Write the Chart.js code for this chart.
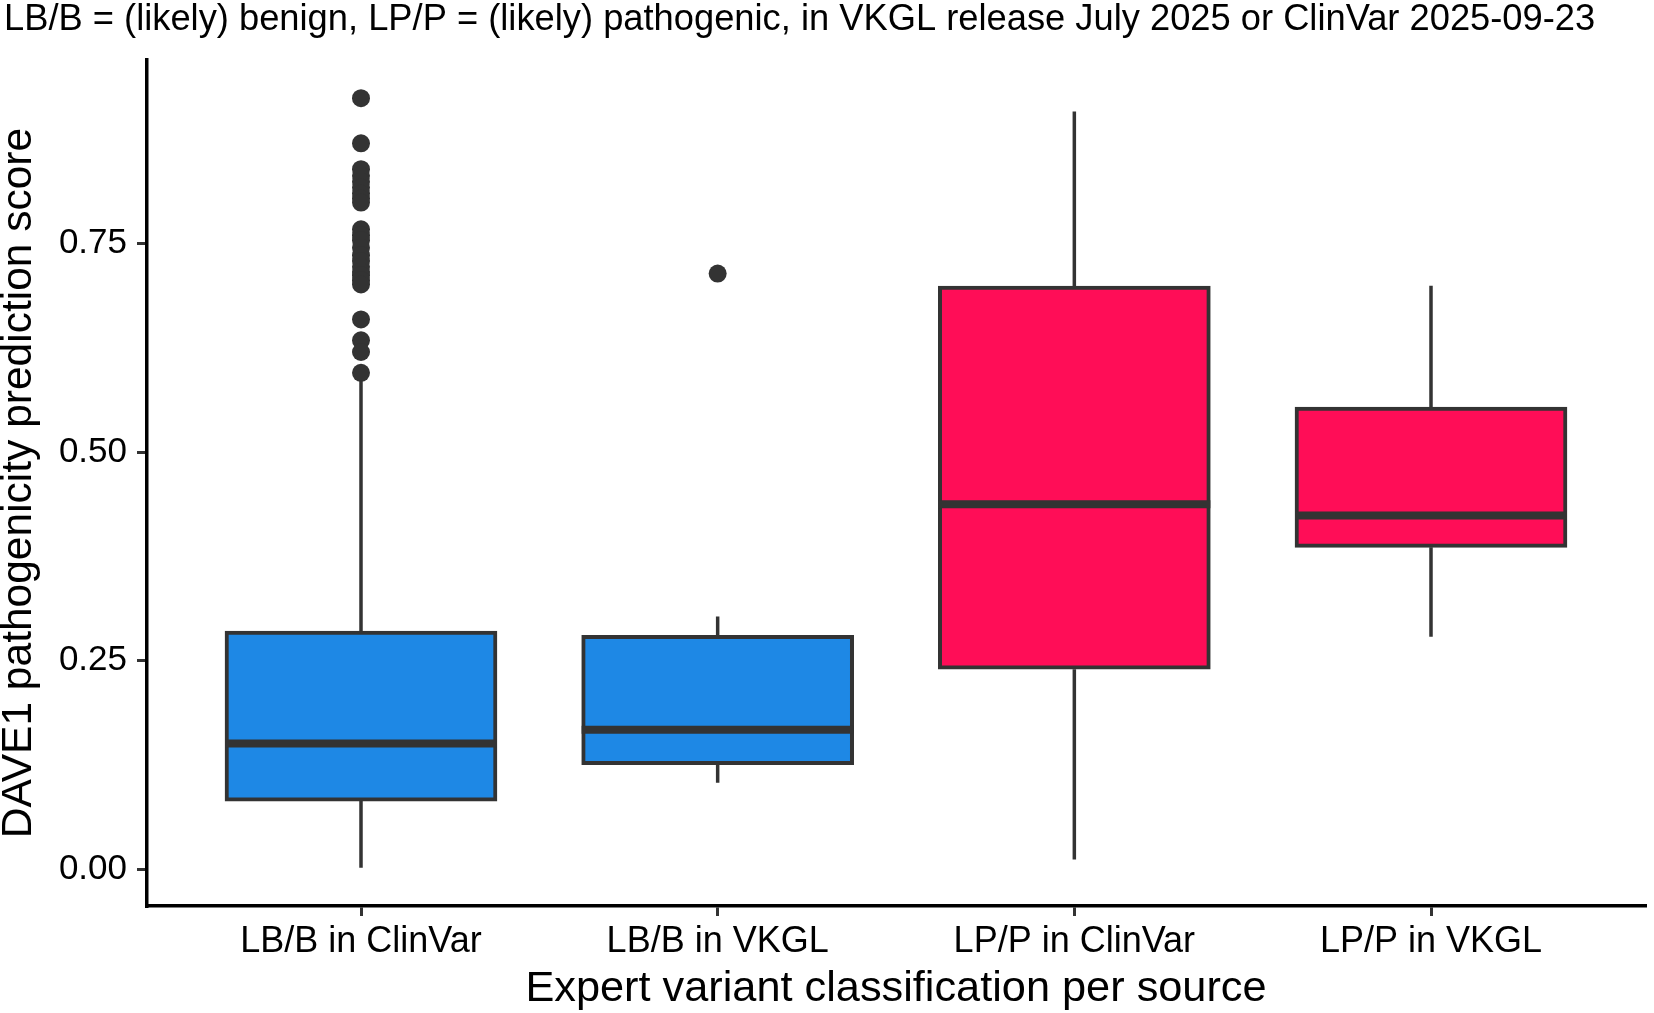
<!DOCTYPE html>
<html>
<head>
<meta charset="utf-8">
<script src="https://cdn.jsdelivr.net/npm/chart.js@4.4.1/dist/chart.umd.min.js"></script>
<style>
  html, body { margin: 0; padding: 0; background: #ffffff; }
  #wrap { width: 1654px; height: 1013px; }
</style>
</head>
<body>
<div id="wrap"><canvas id="c" width="1654" height="1013"></canvas></div>
<script>
// ---- data ----
const categories = ['LB/B in ClinVar', 'LB/B in VKGL', 'LP/P in ClinVar', 'LP/P in VKGL'];
const whiskerLow  = [0.002, 0.104, 0.012, 0.279];
const q1          = [0.082, 0.1255, 0.240, 0.386];
const median      = [0.151, 0.1675, 0.4375, 0.424];
const q3          = [0.2856, 0.2805, 0.699, 0.554];
const whiskerHigh = [0.591, 0.303, 0.908, 0.6995];
const outliersLBClinVar = [0.924, 0.870, 0.839, 0.831, 0.824, 0.817, 0.810, 0.804, 0.799,
                           0.767, 0.760, 0.754, 0.745, 0.736, 0.729, 0.722, 0.716, 0.712, 0.706, 0.701,
                           0.659, 0.634, 0.620, 0.595];
const outliersLBVKGL = [0.714];
const outliersLPClinVar = [];
const outliersLPVKGL = [];
const yTickValues = [0, 0.25, 0.5, 0.75];
const titleText = 'LB/B = (likely) benign, LP/P = (likely) pathogenic, in VKGL release July 2025 or ClinVar 2025-09-23';
const xTitle = 'Expert variant classification per source';
const yTitle = 'DAVE1 pathogenicity prediction score';

// ---- styling ----
const boxFill = ['#1E88E5', '#1E88E5', '#FF0D57', '#FF0D57'];
const ink = '#333333';

const xPositions = categories.map((_, i) => i + 1);
const outlierSets = [outliersLBClinVar, outliersLBVKGL, outliersLPClinVar, outliersLPVKGL];
const outlierPoints = [];
outlierSets.forEach((arr, i) => arr.forEach(v => outlierPoints.push({ x: xPositions[i], y: v })));

Chart.defaults.font.family = "'Liberation Sans', Arial, Helvetica, sans-serif";
Chart.defaults.color = '#000000';

const boxParts = {
  id: 'boxParts',
  beforeDatasetsDraw(chart) {
    const { ctx, scales: { x, y } } = chart;
    ctx.save();
    ctx.strokeStyle = ink;
    ctx.lineWidth = 3.5;
    ctx.lineCap = 'butt';
    xPositions.forEach((xv, i) => {
      const px = x.getPixelForValue(xv);
      ctx.beginPath();
      ctx.moveTo(px, y.getPixelForValue(q3[i]));
      ctx.lineTo(px, y.getPixelForValue(whiskerHigh[i]));
      ctx.moveTo(px, y.getPixelForValue(q1[i]));
      ctx.lineTo(px, y.getPixelForValue(whiskerLow[i]));
      ctx.stroke();
    });
    ctx.restore();
  },
  afterDatasetsDraw(chart) {
    const { ctx, scales: { y } } = chart;
    const meta = chart.getDatasetMeta(0);
    ctx.save();
    ctx.strokeStyle = ink;
    ctx.lineWidth = 8;
    ctx.lineCap = 'butt';
    meta.data.forEach((el, i) => {
      const py = y.getPixelForValue(median[i]);
      ctx.beginPath();
      ctx.moveTo(el.x - el.width / 2, py);
      ctx.lineTo(el.x + el.width / 2, py);
      ctx.stroke();
    });
    ctx.restore();
  }
};

new Chart(document.getElementById('c'), {
  type: 'bar',
  data: {
    datasets: [
      {
        type: 'bar',
        data: xPositions.map((xv, i) => ({ x: xv, y: [q1[i], q3[i]] })),
        backgroundColor: boxFill,
        borderColor: ink,
        borderWidth: 4,
        borderSkipped: false,
        barThickness: 272,
        order: 2
      },
      {
        type: 'scatter',
        data: outlierPoints,
        pointRadius: 9,
        pointBackgroundColor: ink,
        pointBorderWidth: 0,
        order: 1
      }
    ]
  },
  options: {
    responsive: false,
    animation: false,
    devicePixelRatio: 1,
    layout: { padding: { left: 4, right: 3, top: 0, bottom: 0 } },
    plugins: {
      legend: { display: false },
      tooltip: { enabled: false },
      title: {
        display: true,
        text: titleText,
        align: 'start',
        color: '#000000',
        font: { size: 36.3, weight: 'normal', lineHeight: 1 },
        padding: { top: 2, bottom: 21.7 }
      }
    },
    scales: {
      x: {
        type: 'linear',
        min: 0.4,
        max: 4.6,
        offset: false,
        afterBuildTicks: s => { s.ticks = xPositions.map(v => ({ value: v })); },
        afterFit: s => { s.height = 107; },
        ticks: {
          callback: v => categories[v - 1],
          font: { size: 36 },
          color: '#000000',
          padding: 4,
          maxRotation: 0,
          autoSkip: false
        },
        grid: { offset: false, drawOnChartArea: false, drawTicks: true, tickLength: 10, color: ink, lineWidth: 3 },
        border: { display: true, color: '#000000', width: 3.5 },
        title: { display: true, text: xTitle, color: '#000000', font: { size: 43.3, lineHeight: 1.1 }, padding: 0 }
      },
      y: {
        min: -0.0437,
        max: 0.9698,
        afterBuildTicks: s => { s.ticks = yTickValues.map(v => ({ value: v })); },
        afterFit: s => { s.width = 143; },
        ticks: {
          callback: v => Number(v).toFixed(2),
          font: { size: 35 },
          color: '#000000',
          padding: 10
        },
        grid: { drawOnChartArea: false, drawTicks: true, tickLength: 10, color: ink, lineWidth: 3 },
        border: { display: true, color: '#000000', width: 3.5 },
        title: { display: true, text: yTitle, color: '#000000', font: { size: 42.5, lineHeight: 0.7 }, padding: 0 }
      }
    }
  },
  plugins: [boxParts]
});
</script>
</body>
</html>
